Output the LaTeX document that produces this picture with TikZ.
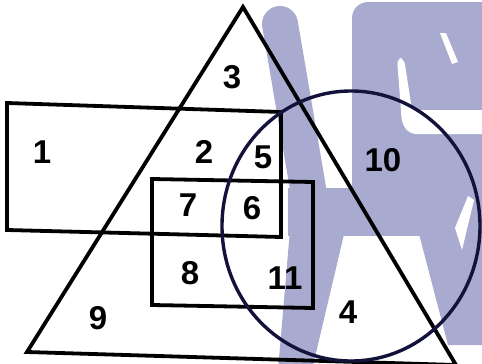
\documentclass[tikz,border=0pt]{standalone}
\usepackage{fontspec}
\setmainfont{Liberation Sans}
\usepackage{xcolor}
\usepackage{tikz}
\definecolor{wmblue}{RGB}{168,171,207}
\definecolor{navy}{RGB}{18,18,58}

\begin{document}
\begin{tikzpicture}[x=1pt,y=-1pt,line width=3.8pt,
  num/.style={font=\fontsize{33}{36}\selectfont\bfseries,inner sep=0pt}]
  \useasboundingbox (0,0) rectangle (482,364);
  % watermark behind the figure
  \fill[wmblue,rounded corners=16pt] (352,200) -- (352,2) -- (500,2) -- (500,200) -- cycle;
  \draw[wmblue,line width=36pt,line cap=round] (280,24) -- (310,200);
  \fill[wmblue] (288,188) rectangle (482,236);
  \fill[wmblue] (290,230) -- (345,230) -- (312,370) -- (278,370) -- cycle;
  \fill[wmblue] (418,230) -- (482,230) -- (482,345) -- (448,345) -- cycle;
  \fill[white,rounded corners=6pt] (397,58) -- (404,58) -- (412,110) -- (490,110)
    -- (490,134) -- (410,134) -- (402,124) -- cycle;
  \fill[white] (440,33) -- (446,33) -- (458,62) -- (452,64) -- cycle;
  \fill[white] (468,196) -- (474,200) -- (462,250) -- (455,228) -- cycle;
  % sets
  \draw (243,7) -- (27,352) -- (456,365) -- cycle;
  \draw (7,103) -- (281,112) -- (281,237) -- (7,230) -- cycle;
  \draw (152,179) -- (313,182) -- (313,308) -- (152,305) -- cycle;
  \draw[navy,line width=3.4pt] (351,226) ellipse [x radius=129pt, y radius=135pt];
  % region numbers
  \node[num] (n1) at (42,152) {1};
  \node[num] (n2) at (204,152) {2};
  \node[num] (n3) at (232,77) {3};
  \node[num] (n4) at (348,312) {4};
  \node[num] (n5) at (263,157) {5};
  \node[num] (n6) at (252,208) {6};
  \node[num] (n7) at (188,205) {7};
  \node[num] (n8) at (190,273) {8};
  \node[num] (n9) at (98,318) {9};
  \node[num] (n10) at (383,160) {10};
  \node[num] (n11) at (285,278) {11};
\end{tikzpicture}
\end{document}
